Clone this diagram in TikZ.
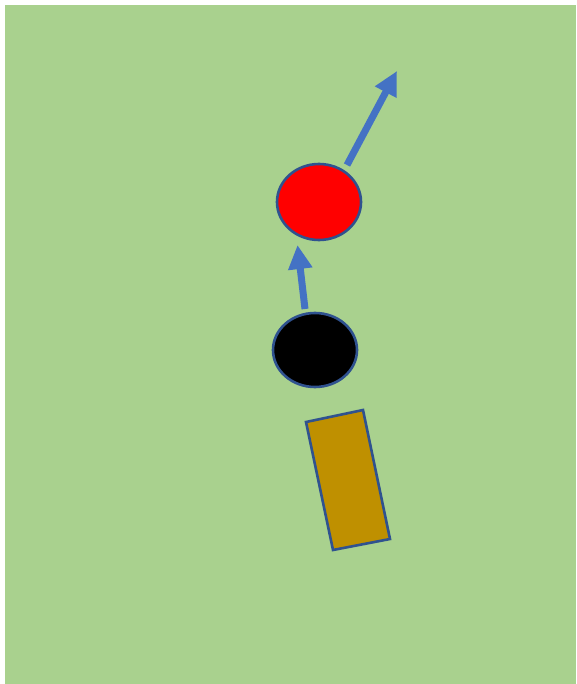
\documentclass[tikz,border=0pt]{standalone}
\usetikzlibrary{arrows.meta}
\definecolor{bggreen}{HTML}{A9D18E}
\definecolor{edgeblue}{HTML}{2F528F}
\definecolor{arrowblue}{HTML}{4472C4}
\definecolor{gold}{HTML}{BF9000}
\begin{document}
\begin{tikzpicture}[x=1pt,y=-1pt,
  disc/.style={draw=edgeblue,line width=2.6pt},
  bigarrow/.style={draw=arrowblue,line width=7pt,-{Triangle[length=24pt,width=23pt]}}]
\useasboundingbox (0,0) rectangle (576,684);
\fill[white] (0,0) rectangle (576,684);
\fill[bggreen] (5,5) rectangle (576,684);
\filldraw[disc,fill=red] (319,202) ellipse [x radius=42,y radius=38];
\filldraw[disc,fill=black] (315,350) ellipse [x radius=42,y radius=37];
\filldraw[disc,fill=gold] (306,422) -- (363,410) -- (390,539) -- (333,550) -- cycle;
\coordinate (a1s) at (305,309);
\coordinate (a1e) at (297.5,245);
\coordinate (a2s) at (347,165);
\coordinate (a2e) at (397,71);
\draw[bigarrow] (a1s) -- (a1e);
\draw[bigarrow] (a2s) -- (a2e);
\end{tikzpicture}
\end{document}
